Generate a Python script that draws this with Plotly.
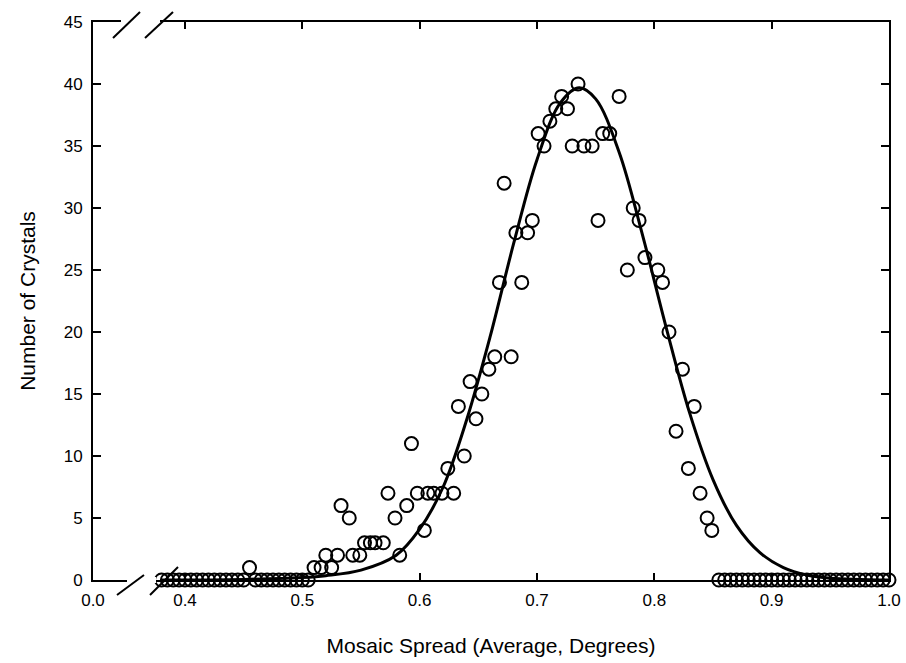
import plotly.graph_objects as go

# ---- data ----
zero_left_x = [0.380, 0.385, 0.390, 0.395, 0.400, 0.405, 0.410, 0.415, 0.420, 0.425,
               0.430, 0.435, 0.440, 0.445, 0.450, 0.460, 0.465, 0.470, 0.475, 0.480,
               0.485, 0.490, 0.495, 0.500, 0.505]
zero_left_y = [0] * len(zero_left_x)

mid_x = [0.455, 0.510, 0.516, 0.520, 0.525, 0.530, 0.533, 0.540, 0.543, 0.549,
         0.553, 0.558, 0.562, 0.569, 0.573, 0.579, 0.583, 0.589, 0.593, 0.598,
         0.604, 0.607, 0.612, 0.619, 0.624, 0.629, 0.633, 0.638, 0.643, 0.648,
         0.653, 0.659, 0.664, 0.668, 0.672, 0.678, 0.682, 0.687, 0.692, 0.696,
         0.701, 0.706, 0.711, 0.716, 0.721, 0.726, 0.730, 0.735, 0.740, 0.747,
         0.752, 0.756, 0.762, 0.770, 0.777, 0.782, 0.787, 0.792, 0.803, 0.807,
         0.8125, 0.8185, 0.824, 0.829, 0.834, 0.839, 0.845, 0.849]
mid_y = [1, 1, 1, 2, 1, 2, 6, 5, 2, 2,
         3, 3, 3, 3, 7, 5, 2, 6, 11, 7,
         4, 7, 7, 7, 9, 7, 14, 10, 16, 13,
         15, 17, 18, 24, 32, 18, 28, 24, 28, 29,
         36, 35, 37, 38, 39, 38, 35, 40, 35, 35,
         29, 36, 36, 39, 25, 30, 29, 26, 25, 24,
         20, 12, 17, 9, 14, 7, 5, 4]

zero_right_x = [0.855, 0.860, 0.865, 0.870, 0.875, 0.880, 0.885, 0.890, 0.895, 0.900,
                0.905, 0.910, 0.915, 0.920, 0.925, 0.930, 0.935, 0.940, 0.945, 0.950,
                0.955, 0.960, 0.965, 0.970, 0.975, 0.980, 0.985, 0.990, 0.995, 1.000]
zero_right_y = [0] * len(zero_right_x)

curve_x = [0.38, 0.45, 0.50, 0.52, 0.55, 0.58, 0.60, 0.62, 0.64, 0.66, 0.68, 0.70,
           0.72, 0.736, 0.75, 0.77, 0.79, 0.81, 0.83, 0.85, 0.87, 0.89, 0.91, 0.93,
           0.95, 1.00]
curve_y = [0.0, 0.05, 0.2, 0.35, 0.8, 2.0, 4.1, 7.5, 12.9, 19.6, 27.1, 33.9,
           38.5, 39.7, 38.8, 34.5, 27.8, 20.4, 13.5, 8.1, 4.4, 2.2, 1.0, 0.4,
           0.15, 0.0]

tick_vals = [0.3216, 0.4, 0.5, 0.6, 0.7, 0.8, 0.9, 1.0]
tick_text = ["0.0", "0.4", "0.5", "0.6", "0.7", "0.8", "0.9", "1.0"]
y_tick_vals = [0, 5, 10, 15, 20, 25, 30, 35, 40, 45]

pts_x = zero_left_x + mid_x + zero_right_x
pts_y = zero_left_y + mid_y + zero_right_y

fig = go.Figure()
fig.add_trace(go.Scatter(
    x=curve_x, y=curve_y, mode="lines",
    line=dict(color="black", width=3, shape="spline", smoothing=1.0),
    hoverinfo="skip", showlegend=False))
fig.add_trace(go.Scatter(
    x=pts_x, y=pts_y, mode="markers",
    marker=dict(symbol="circle-open", size=13, color="black", line=dict(width=2)),
    cliponaxis=False, showlegend=False))

FONT = "Liberation Sans, Arial, sans-serif"

# plot area in page pixels
L, R, T, B = 93, 889, 22, 580
W, H = R - L, B - T
def px(x):
    return (x - L) / W
def py(y):
    return (B - y) / H

shapes = []
# white gaps in the bottom and top frame lines
shapes.append(dict(type="rect", xref="paper", yref="paper",
                   x0=px(127), x1=px(156), y0=py(583), y1=py(577),
                   fillcolor="white", line=dict(width=0), layer="above"))
shapes.append(dict(type="rect", xref="paper", yref="paper",
                   x0=px(121), x1=px(160), y0=py(25), y1=py(19),
                   fillcolor="white", line=dict(width=0), layer="above"))
for (x0, y0, x1, y1) in [(117, 595, 144, 575), (150, 595, 178, 567),
                         (113, 38, 140, 12), (145, 38, 173, 12)]:
    shapes.append(dict(type="line", xref="paper", yref="paper",
                       x0=px(x0), y0=py(y0), x1=px(x1), y1=py(y1),
                       line=dict(color="black", width=2), layer="above"))

fig.update_layout(
    template="none",
    width=906, height=663,
    margin=dict(l=L, r=906 - R, t=T, b=663 - B, pad=0),
    paper_bgcolor="white", plot_bgcolor="white",
    font=dict(family=FONT, color="black", size=17),
    shapes=shapes,
    xaxis=dict(range=[0.3216, 1.0], tickvals=tick_vals, ticktext=tick_text,
               automargin=False, ticklabelstandoff=4,
               showline=True, linecolor="black", linewidth=2, mirror="ticks",
               ticks="inside", ticklen=7, tickwidth=1.5, tickcolor="black",
               showgrid=False, zeroline=False,
               tickfont=dict(size=17),
               title=dict(text="Mosaic Spread (Average, Degrees)",
                          font=dict(size=21), standoff=29)),
    yaxis=dict(range=[0, 45], tickvals=y_tick_vals,
               automargin=False, ticklabelstandoff=5,
               showline=True, linecolor="black", linewidth=2, mirror="ticks",
               ticks="inside", ticklen=8, tickwidth=1.5, tickcolor="black",
               showgrid=False, zeroline=False,
               tickfont=dict(size=17),
               title=dict(text="Number of Crystals", font=dict(size=21), standoff=22)),
)

fig.write_html("out.html",
               config={"displayModeBar": False},
               post_script="document.body.style.margin='0';document.body.style.overflow='hidden';")
